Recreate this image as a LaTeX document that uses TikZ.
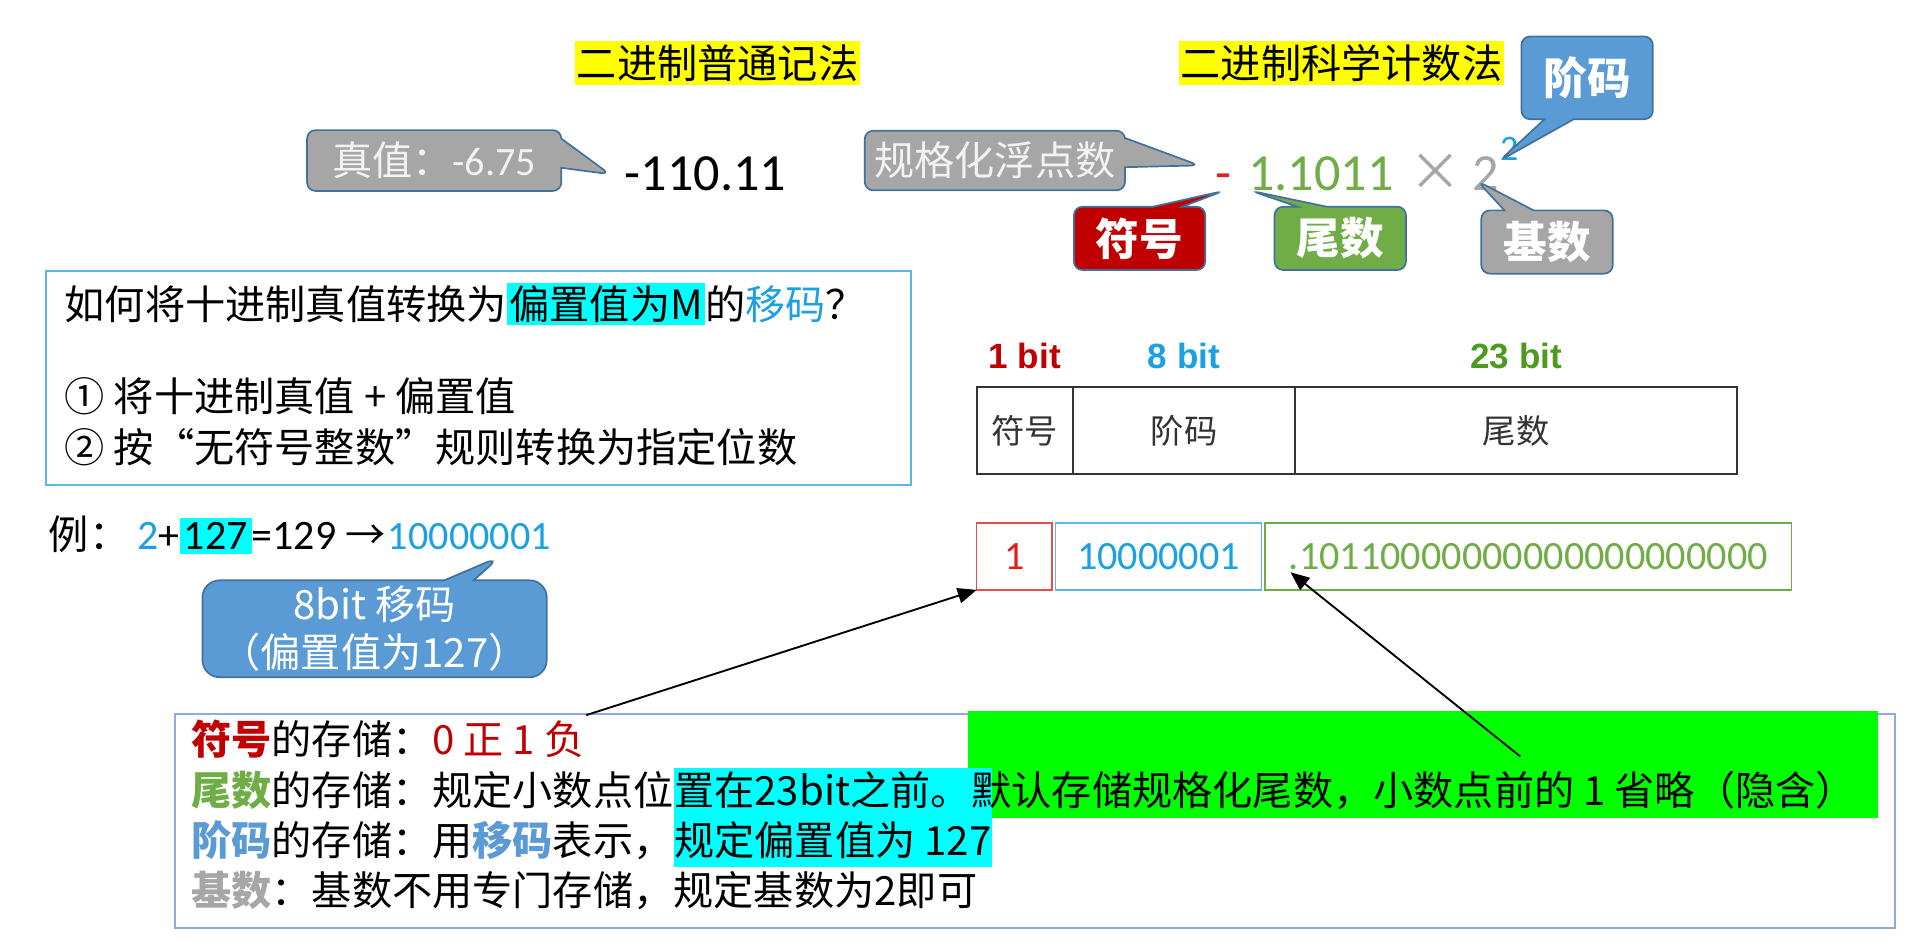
\documentclass[tikz,border=0pt]{standalone}
\usepackage{fontspec}
\setmainfont{Noto Sans CJK SC}
\newfontfamily\arialfont{Liberation Sans}
\newfontfamily\numfont{Carlito}
\usepackage{xcolor}
\usetikzlibrary{positioning,calc,shapes.callouts,arrows.meta}

\definecolor{hlyellow}{HTML}{FFFF00}
\definecolor{hlcyan}{HTML}{00FFFF}
\definecolor{hlgreen}{HTML}{00FF00}
\definecolor{signred}{HTML}{C00000}
\definecolor{bitred}{HTML}{E02020}
\definecolor{mantgreen}{HTML}{70AD47}
\definecolor{labgreen}{HTML}{4E9A1E}
\definecolor{expblue}{HTML}{5B9BD5}
\definecolor{codeblue}{HTML}{1BA1E2}
\definecolor{basegrey}{HTML}{A6A6A6}
\definecolor{edgeblue}{HTML}{41719C}
\definecolor{howblue}{HTML}{5DB7E3}
\definecolor{noteblue}{HTML}{8FAADC}

\pgfdeclarelayer{background}
\pgfsetlayers{background,main}

\newcommand\bodysize{\fontsize{23.5}{28}\selectfont}
\newcommand\bigsize{\fontsize{30.5}{36}\selectfont}
\newcommand\tagsize{\fontsize{25.5}{30}\selectfont}
\newcommand\cellsize{\fontsize{19.5}{24}\selectfont}
\newcommand\labsize{\fontsize{20.5}{24}\selectfont}
\setlength{\fboxsep}{1.5pt}

\begin{document}
\begin{tikzpicture}[x=0.025cm, y=-0.025cm, font=\bodysize,
    headline/.style={fill=hlyellow, inner xsep=1pt, inner ysep=2pt},
    bubble/.style={rectangle callout, draw=edgeblue, line width=1pt, rounded corners=5pt,
      fill=basegrey, text=white!95!black, callout pointer width=0.6cm},
    tag/.style={bubble, font=\tagsize\bfseries, text=white, minimum height=1.3cm, minimum width=2.7cm},
    expr/.style={inner sep=0pt, anchor=base, font=\bigsize\numfont},
    plain/.style={anchor=west, inner xsep=0pt},
    bitlabel/.style={font={\arialfont\labsize\bfseries}, above=0.25cm of #1},
    cell/.style={draw=black!80, line width=1.2pt, minimum height=1.8cm, outer sep=0pt,
      font=\cellsize, text=black!80},
    bitbox/.style={draw, line width=0.9pt, minimum height=1.375cm, outer sep=0pt, font=\bodysize\numfont},
    noteline/.style={anchor=west, inner xsep=0pt, inner ysep=1.7pt, text height=20pt, text depth=5pt},
    ptr/.style={-{Triangle[length=11pt,width=9pt]}, line width=1.1pt}]
  \useasboundingbox (0,0) rectangle (1568,782);

  \node[headline] (plainhead) at (590,52) {二进制普通记法};
  \node[headline] (scihead) at (1103,52) {二进制科学计数法};

  \node[expr] (val) at (580,157) {-110.11};
  \node[bubble, minimum width=5.225cm, minimum height=1.25cm,
        callout absolute pointer={($(val.west)+(-12,0)$)}] (truth) at (357,132) {真值：{\numfont -6.75}};

  \node[expr, text=bitred] (sgn) at (1006,157) {-};
  \node[expr, text=mantgreen] (mant) at (1086,157) {1.1011};
  \node[expr, text=basegrey, font=\bigsize] (times) at (1180,157) {×};
  \node[expr, text=basegrey] (radix) at (1222,157) {2};
  \node[expr, text=codeblue, font=\fontsize{21}{24}\selectfont\numfont] (expo) at (1241,132) {2};

  \node[bubble, minimum width=5.35cm, minimum height=1.225cm,
        callout absolute pointer={($(sgn.base)+(-20,-21)$)}] (normal) at (818,132) {规格化浮点数};
  \node[tag, fill=signred, callout absolute pointer={(sgn.base)}] (signtag) at (937,196) {符号};
  \node[tag, fill=mantgreen, callout absolute pointer={($(mant.base west)+(3,0)$)}] (manttag) at (1102,196) {尾数};
  \node[tag, fill=basegrey, callout absolute pointer={($(radix.base west)+(4,-8)$)}] (radixtag) at (1272,199) {基数};
  \node[tag, fill=expblue, minimum height=1.7cm, callout absolute pointer={(expo.base west)}] (exptag) at (1305,64) {阶码};

  \node[draw=howblue, line width=1.1pt, minimum width=17.775cm, minimum height=4.4cm,
        anchor=north west] (howbox) at (37,222) {};
  \node[plain] (howq) at (53,250) {如何将十进制真值转换为\colorbox{hlcyan}{偏置值为M}的\textcolor{codeblue}{移码}？};
  \node[plain] (step1) at (53,326) {①~将十进制真值 + 偏置值};
  \node[plain] (step2) at (53,368) {②~按“无符号整数”规则转换为指定位数};

  \node[plain] (ex) at (40,440)
    {例：\hspace{0.2em}{\numfont\fontsize{24.5}{30}\selectfont\textcolor{codeblue}{2}+{\setlength{\fboxsep}{2.5pt}\colorbox{hlcyan}{127}}=129} →};
  \node[plain, anchor=base west, text=codeblue, font=\bodysize\numfont] (excode) at ([xshift=1pt]ex.base east) {10000001};
  \node[bubble, fill=expblue, rounded corners=10pt, minimum width=7.075cm, minimum height=1.95cm,
        align=center, text=white, callout absolute pointer={($(excode.south)+(26,0)$)}] (excall)
    at (308,517) {8bit 移码\\（偏置值为127）};

  \node[cell, minimum width=1.975cm, anchor=north west] (csign) at (803,318) {符号};
  \node[cell, minimum width=4.575cm, right=0pt of csign] (cexp) {阶码};
  \node[cell, minimum width=9.075cm, right=0pt of cexp] (cmant) {尾数};
  \node[bitlabel=csign, text=signred] (lab1) {1 bit};
  \node[bitlabel=cexp, text=codeblue] (lab8) {8 bit};
  \node[bitlabel=cmant, text=labgreen] (lab23) {23 bit};

  \node[bitbox, draw=bitred!80, text=bitred, minimum width=1.55cm, anchor=north west] (bsign) at (803,430) {1};
  \node[bitbox, draw=howblue, text=codeblue, minimum width=4.225cm, right=0.075cm of bsign] (bexp) {10000001};
  \node[bitbox, draw=mantgreen, text=mantgreen, minimum width=10.825cm, right=0.075cm of bexp] (bmant)
    {.10110000000000000000000};

  \node[noteline] (nsign) at (157,610) {\textcolor{signred}{\bfseries 符号}的存储：\textcolor{signred}{0 正 1 负}};
  \node[noteline] (nmanta) at (157,652) {\textcolor{mantgreen}{\bfseries 尾数}的存储：规定小数点位};
  \node[noteline, right=0pt of nmanta] (nmantb) {置在23bit之前。};
  \node[noteline, right=0pt of nmantb] (nmantc) {默认存储规格化尾数，小数点前的 1 省略（隐含）};
  \node[noteline] (nexpa) at (157,693) {\textcolor{expblue}{\bfseries 阶码}的存储：用\textcolor{expblue}{\bfseries 移码}表示，};
  \node[noteline, right=0pt of nexpa] (nexpb) {规定偏置值为 127};
  \node[noteline] (nradix) at (157,734) {\textcolor{basegrey}{\bfseries 基数}：基数不用专门存储，规定基数为2即可};

  \begin{pgfonlayer}{background}
    \node[draw=noteblue, line width=1.3pt, minimum width=35.35cm, minimum height=4.4cm,
          anchor=north west] (notes) at (143,586) {};
    \coordinate (greentop) at (nmantc.east |- notes.north);
    \fill[hlgreen] ($(nmantc.south west)+(-3,0)$) rectangle ($(greentop)+(18,-1)$);
    \fill[hlcyan] (nmantb.north west) rectangle (nexpb.south east);
  \end{pgfonlayer}

  \coordinate (signfrom) at (482,588);
  \coordinate (dotfrom) at (1250,622);
  \draw[ptr] (signfrom) -- (bsign.south west);
  \draw[ptr] (dotfrom) -- ($(bmant.west)+(21,13)$);
\end{tikzpicture}
\end{document}
